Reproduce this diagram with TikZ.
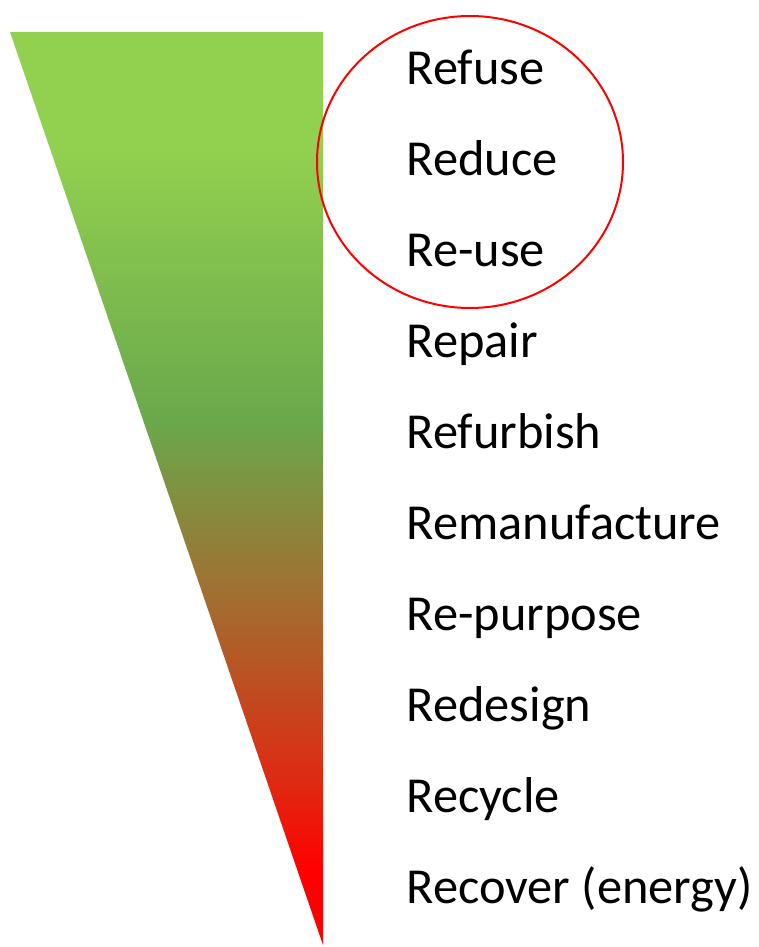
\documentclass[tikz,border=0pt]{standalone}
\usepackage{fontspec}
\setmainfont{Carlito}
\usetikzlibrary{calc}

\definecolor{wasteLight}{HTML}{92D050}
\definecolor{wasteDark}{HTML}{6AA84C}
\definecolor{wasteBrown}{HTML}{A66A2E}
\definecolor{wasteOrange}{HTML}{DE2A12}
\definecolor{wasteRed}{HTML}{FF0000}

\pgfdeclareverticalshading{wastegrad}{100bp}{%
  color(0bp)=(wasteRed); color(25bp)=(wasteRed); color(29.1bp)=(wasteRed);
  color(34bp)=(wasteOrange); color(43.35bp)=(wasteBrown); color(53.75bp)=(wasteDark);
  color(68.5bp)=(wasteLight); color(75bp)=(wasteLight); color(100bp)=(wasteLight)}

\begin{document}
\begin{tikzpicture}[x=1pt, y=-1pt,
		stage/.style={anchor=base west, inner sep=0pt, font=\fontsize{50.4}{60}\selectfont}]

		\useasboundingbox (0,0) rectangle (759,947);

		\coordinate (topL) at (10,32);
		\coordinate (topR) at (323,32);
		\coordinate (apex) at (323,945);

		\shade[shading=wastegrad] (topL) -- (topR) -- (apex) -- cycle;

		\node[stage] (refuse) at (406.5,85) {Refuse};
		\node[stage] (reduce) at (406.5,175.9) {Reduce};
		\node[stage] (reuse) at (406.5,266.8) {Re-use};
		\node[stage] (repair) at (406.5,357.7) {Repair};
		\node[stage] (refurbish) at (406.5,448.6) {Refurbish};
		\node[stage] (remanufacture) at (406.5,539.5) {Remanufacture};
		\node[stage] (repurpose) at (406.5,630.4) {Re-purpose};
		\node[stage] (redesign) at (406.5,721.3) {Redesign};
		\node[stage] (recycle) at (406.5,812.2) {Recycle};
		\node[stage] (recover) at (406.5,903) {Recover (energy)};

		\coordinate (focus) at (470,162);
		\draw[red, line width=2pt] (focus) ellipse (153 and 146);

	\end{tikzpicture}
\end{document}
